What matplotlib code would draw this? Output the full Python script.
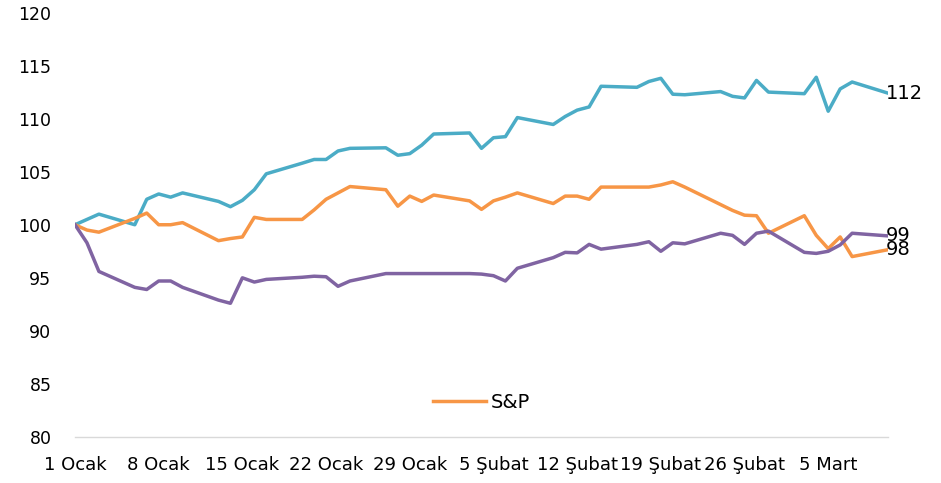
import matplotlib
matplotlib.use("Agg")
import matplotlib.pyplot as plt
import matplotlib.dates as mdates
import numpy as np
import pandas as pd

plt.rcParams['font.family'] = ['DejaVu Sans']

dates = pd.to_datetime([
    "2025-01-01", "2025-01-02", "2025-01-03", "2025-01-06", "2025-01-07", "2025-01-08",
    "2025-01-09", "2025-01-10", "2025-01-13", "2025-01-14", "2025-01-15", "2025-01-16",
    "2025-01-17", "2025-01-20", "2025-01-21", "2025-01-22", "2025-01-23", "2025-01-24",
    "2025-01-27", "2025-01-28", "2025-01-29", "2025-01-30", "2025-01-31",
    "2025-02-03", "2025-02-04", "2025-02-05", "2025-02-06", "2025-02-07",
    "2025-02-10", "2025-02-11", "2025-02-12", "2025-02-13", "2025-02-14",
    "2025-02-17", "2025-02-18", "2025-02-19", "2025-02-20", "2025-02-21",
    "2025-02-24", "2025-02-25", "2025-02-26", "2025-02-27", "2025-02-28",
    "2025-03-03", "2025-03-04", "2025-03-05", "2025-03-06", "2025-03-07", "2025-03-10",
])

series_blue = [
    100.0, 100.5, 101.0, 100.0, 102.4, 102.9, 102.6, 103.0, 102.2, 101.7, 102.3, 103.3,
    104.8, 105.8, 106.15, 106.15, 106.95, 107.2, 107.25, 106.55, 106.7, 107.5, 108.55,
    108.65, 107.2, 108.2, 108.3, 110.1, 109.45, 110.2, 110.8, 111.1, 113.05,
    112.95, 113.5, 113.8, 112.3, 112.25, 112.55, 112.1, 111.95, 113.6, 112.5,
    112.35, 113.9, 110.7, 112.8, 113.45, 112.4,
]

series_sp = [
    100.0, 99.5, 99.3, 100.6, 101.1, 100.0, 100.0, 100.2, 98.5, 98.7, 98.85, 100.7,
    100.5, 100.5, 101.4, 102.4, 103.0, 103.6, 103.3, 101.75, 102.7, 102.2, 102.8,
    102.25, 101.45, 102.25, 102.6, 103.0, 102.0, 102.7, 102.7, 102.4, 103.55,
    103.55, 103.55, 103.75, 104.05, 103.55, 101.9, 101.35, 100.9, 100.85, 99.2,
    100.85, 99.0, 97.75, 98.85, 97.0, 97.65,
]

series_purple = [
    100.0, 98.3, 95.6, 94.1, 93.9, 94.7, 94.7, 94.1, 92.9, 92.6, 95.0, 94.6,
    94.85, 95.05, 95.15, 95.1, 94.2, 94.7, 95.4, 95.4, 95.4, 95.4, 95.4,
    95.4, 95.35, 95.2, 94.7, 95.9, 96.9, 97.4, 97.35, 98.15, 97.7,
    98.15, 98.4, 97.5, 98.3, 98.2, 99.2, 99.0, 98.15, 99.2, 99.4,
    97.4, 97.3, 97.5, 98.1, 99.2, 98.95,
]

tick_dates = pd.to_datetime([
    "2025-01-01", "2025-01-08", "2025-01-15", "2025-01-22", "2025-01-29",
    "2025-02-05", "2025-02-12", "2025-02-19", "2025-02-26", "2025-03-05",
])
tick_labels = ["1 Ocak", "8 Ocak", "15 Ocak", "22 Ocak", "29 Ocak",
               "5 Şubat", "12 Şubat", "19 Şubat", "26 Şubat", "5 Mart"]
y_ticks = [80, 85, 90, 95, 100, 105, 110, 115, 120]

c_blue = "#4BACC6"
c_orange = "#F79646"
c_purple = "#8064A2"

fig = plt.figure(figsize=(9.41, 4.83), dpi=100)
ax = fig.add_axes([75/941, 1 - 437/483, (888-75)/941, (437-12.5)/483])

lw = 2.5
ax.plot(dates, series_blue, color=c_blue, lw=lw, label="_nolegend_")
ax.plot(dates, series_sp, color=c_orange, lw=lw, label="S&P")
ax.plot(dates, series_purple, color=c_purple, lw=lw, label="_nolegend_")

ax.set_xlim(dates[0], dates[-1])
ax.set_ylim(80, 120)
ax.set_yticks(y_ticks)
ax.set_yticklabels([str(v) for v in y_ticks])
ax.set_xticks(tick_dates)
ax.set_xticklabels(tick_labels)

for s in ["top", "right", "left"]:
    ax.spines[s].set_visible(False)
ax.spines["bottom"].set_color("#D9D9D9")
ax.spines["bottom"].set_linewidth(1.0)
ax.tick_params(axis='both', length=0, colors="#000000")
ax.tick_params(axis='y', labelsize=12.5, pad=17)
ax.tick_params(axis='x', labelsize=13, pad=14)
ax.set_facecolor("none")

for vals in (series_blue, series_sp, series_purple):
    ax.annotate(f"{vals[-1]:.0f}", xy=(dates[-1], vals[-1]), xytext=(-2, 0),
                textcoords="offset pixels", ha="left", va="center", fontsize=14,
                color="#000000", annotation_clip=False)

leg = ax.legend(loc="center", bbox_to_anchor=(0.5, 0.082), frameon=False,
                fontsize=14, handlelength=2.7, handletextpad=0.25)

fig.savefig("out.png", dpi=100)
